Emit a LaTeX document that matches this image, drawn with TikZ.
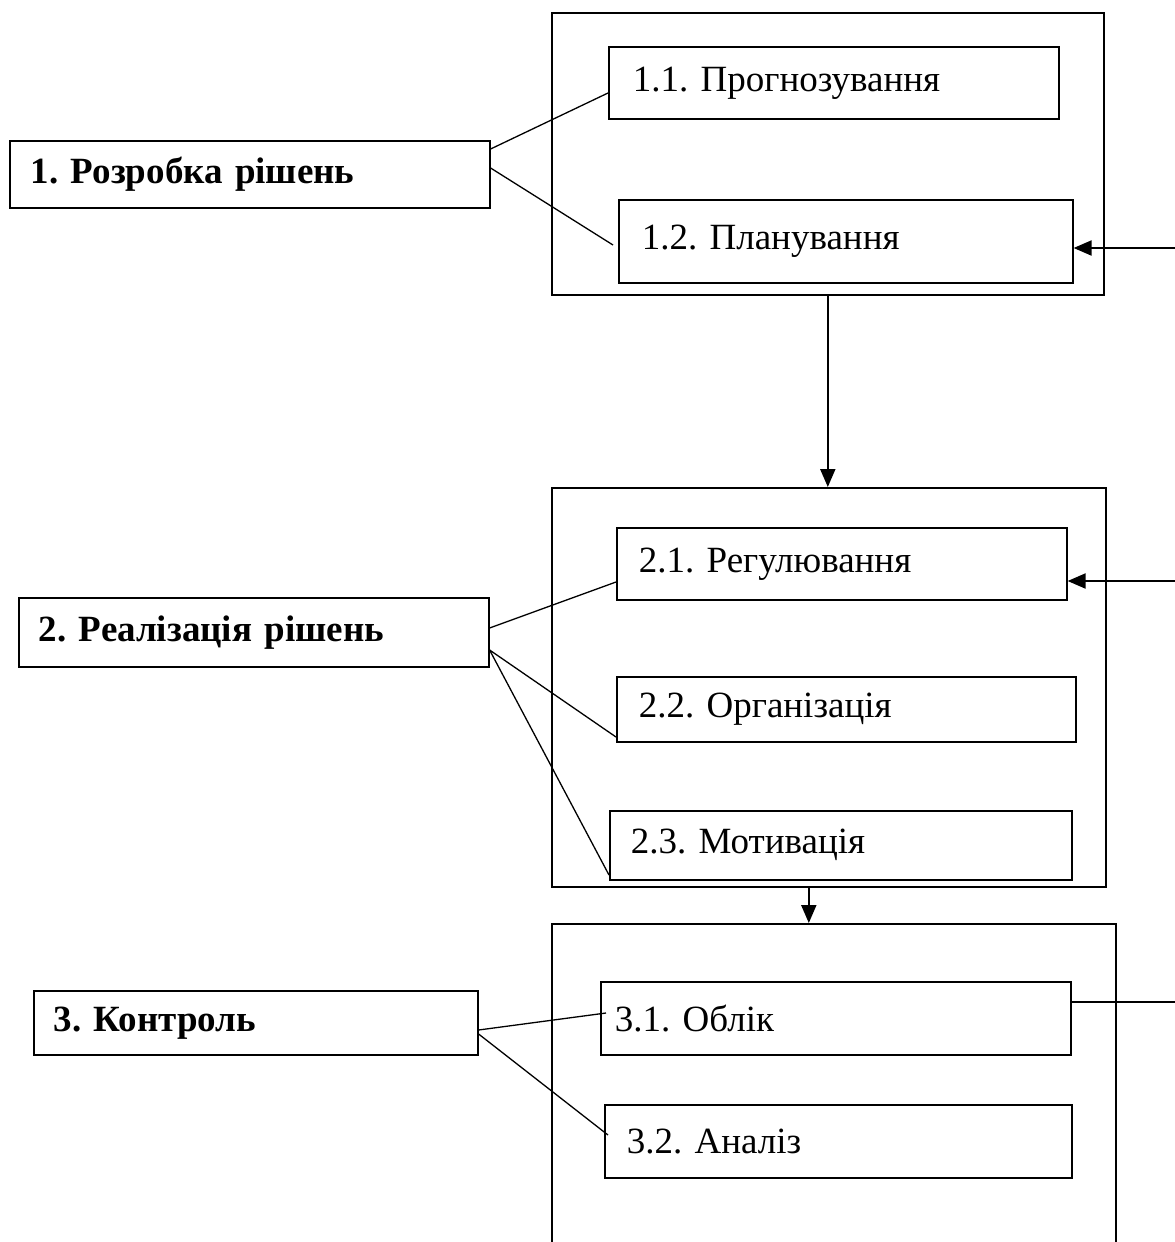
\documentclass[tikz,border=0pt]{standalone}
\usepackage{fontspec}
\setmainfont{Liberation Serif}
\usetikzlibrary{arrows.meta}
\frenchspacing
\begin{document}
\begin{tikzpicture}[x=1pt,y=-1pt,
  outer/.style={draw, line width=1.6pt, anchor=north west, inner sep=0pt},
  box/.style={draw, line width=1.6pt, anchor=north west, align=left, inner ysep=0pt, font=\fontsize{37}{44}\selectfont},
  bbox/.style={box, font=\fontsize{37}{44}\selectfont\bfseries},
  conn/.style={line width=1.3pt},
  arr/.style={line width=2pt, -{Triangle[length=18pt,width=15pt]}},
  feed/.style={line width=2pt}]
\clip (0,0) rectangle (1175,1242);
% outer frames
\node[outer, minimum width=552pt, minimum height=282pt] (o1) at (551,12) {};
\node[outer, minimum width=554pt, minimum height=399pt] (o2) at (551,487) {};
\node[outer, minimum width=564pt, minimum height=340pt] (o3) at (551,923) {};
% inner boxes
\node[box, text width=402pt, inner xsep=24pt, minimum height=72pt] (n11) at (608,46) {1.1. Прогнозування};
\node[box, text width=408pt, inner xsep=23pt, minimum height=83pt] (n12) at (618,199) {1.2. Планування};
\node[box, text width=406pt, inner xsep=22pt, minimum height=72pt] (n21) at (616,527) {2.1. Регулювання};
\node[box, text width=415pt, inner xsep=22pt, minimum height=65pt] (n22) at (616,676) {2.2. Організація};
\node[box, text width=420pt, inner xsep=21pt, minimum height=69pt] (n23) at (609,810) {2.3. Мотивація};
\node[box, text width=442pt, inner xsep=14pt, minimum height=73pt] (n31) at (600,981) {3.1. Облік};
\node[box, text width=423pt, inner xsep=22pt, minimum height=73pt] (n32) at (604,1104) {3.2. Аналіз};
% left boxes
\node[bbox, text width=438pt, inner xsep=21pt, minimum height=67pt] (l1) at (9,140) {1. Розробка рішень};
\node[bbox, text width=430pt, inner xsep=20pt, minimum height=69pt] (l2) at (18,597) {2. Реалізація рішень};
\node[bbox, text width=404pt, inner xsep=20pt, minimum height=64pt] (l3) at (33,990) {3. Контроль};
% connectors from left boxes
\draw[conn] (l1.east |- 0,149) -- (n11.west |- 0,93);
\draw[conn] (l1.east |- 0,168) -- ([xshift=-5pt]n12.west |- 0,245);
\draw[conn] (l2.east |- 0,628) -- (n21.west |- 0,582);
\draw[conn] (l2.east |- 0,650) -- (n22.west |- 0,737);
\draw[conn] (l2.east |- 0,650) -- (n23.west |- 0,875);
\draw[conn] (l3.east |- 0,1030) -- ([xshift=6pt]n31.west |- 0,1013);
\draw[conn] (l3.east |- 0,1034) -- ([xshift=4pt]n32.west |- 0,1135);
% arrows between frames
\draw[arr] (o1.south) -- (o1.south |- o2.north);
\draw[arr] ([xshift=-20pt]o2.south) -- ([xshift=-20pt]o2.south |- o3.north);
% feedback lines from the right edge
\coordinate (f1) at (1175,248);
\coordinate (f2) at (1175,581);
\coordinate (f3) at (1175,1002);
\draw[arr] (f1) -- (f1 -| n12.east);
\draw[arr] (f2) -- (f2 -| n21.east);
\draw[feed] (f3 -| n31.east) -- (f3);
\end{tikzpicture}
\end{document}
